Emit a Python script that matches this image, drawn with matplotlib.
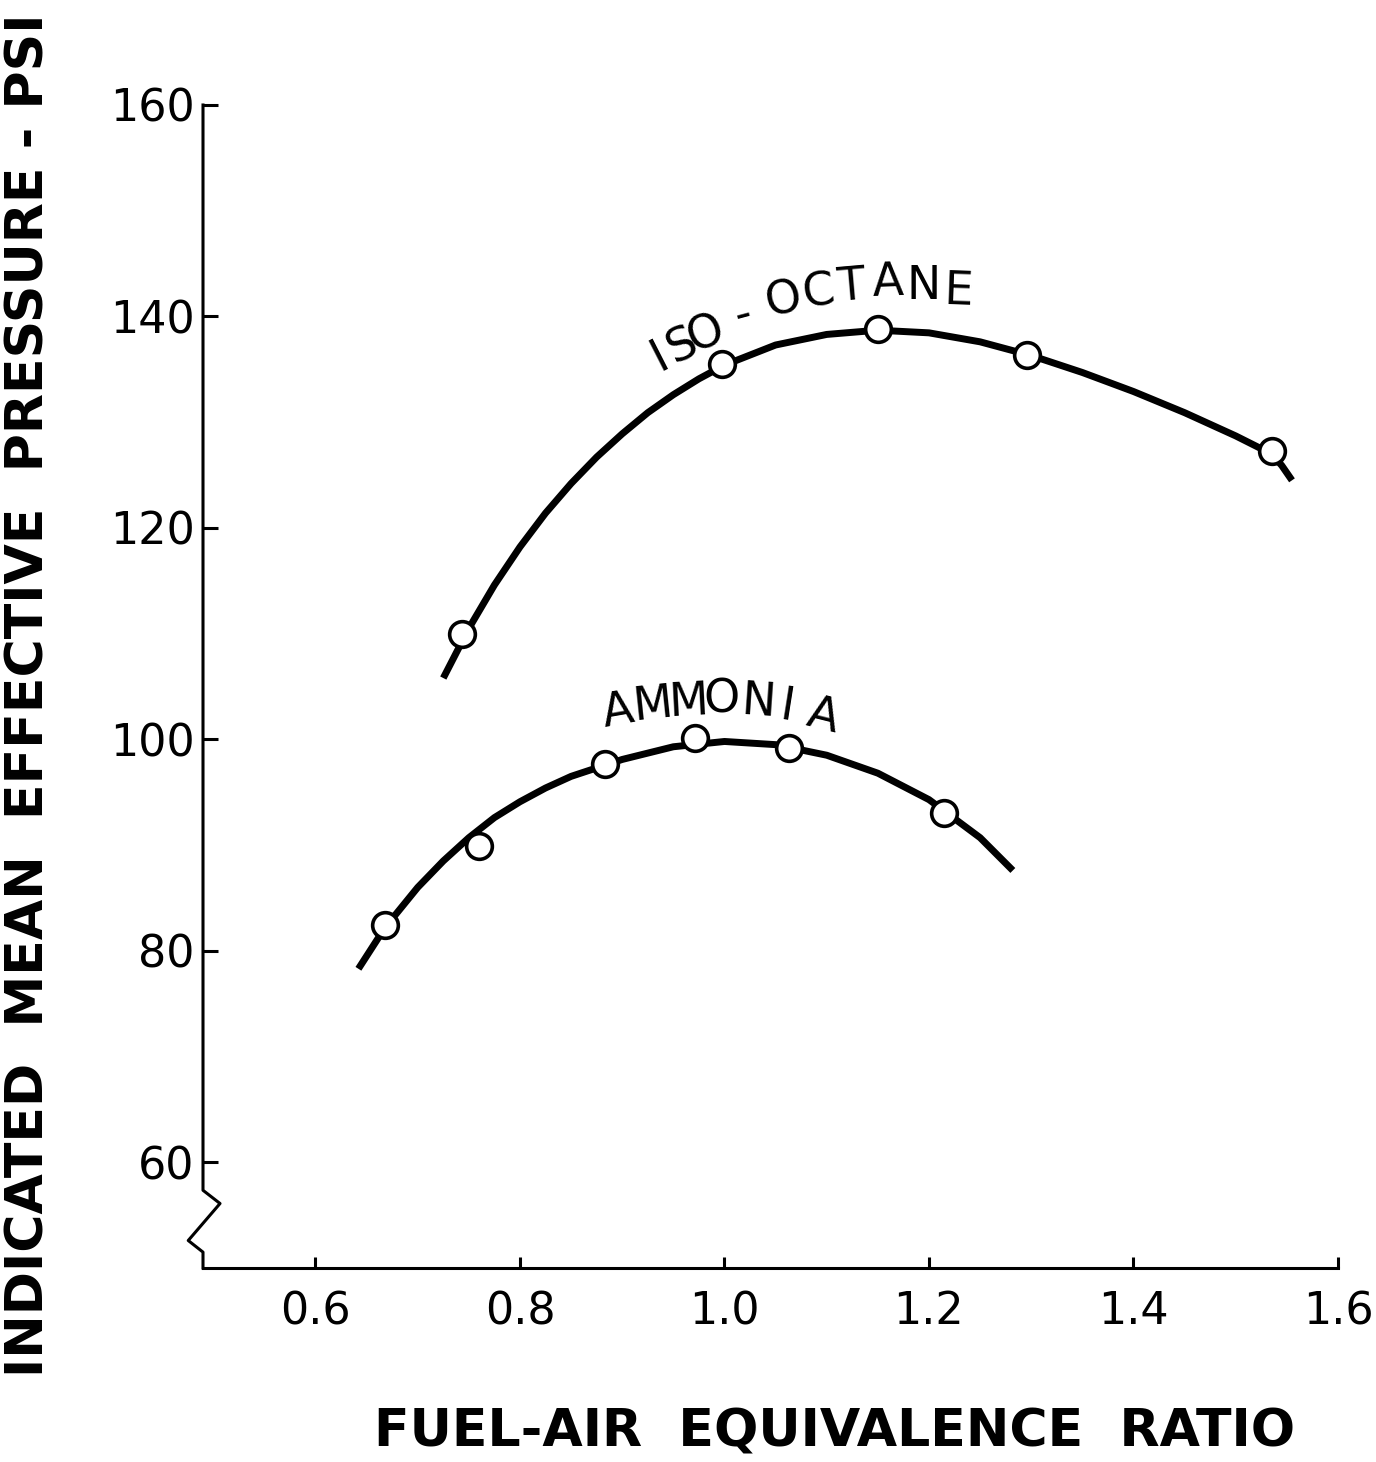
import matplotlib
matplotlib.use("Agg")
import matplotlib.pyplot as plt

# test points: fuel-air equivalence ratio vs imep (psi)
iso_x = [0.743, 0.998, 1.150, 1.296, 1.535]
iso_y = [110.0, 135.5, 138.8, 136.4, 127.3]
amm_x = [0.668, 0.760, 0.883, 0.971, 1.063, 1.215]
amm_y = [82.4, 89.9, 97.7, 100.1, 99.2, 93.0]

# faired curves
iso_cx = [0.725, 0.75, 0.775, 0.80, 0.825, 0.85, 0.875, 0.90, 0.925, 0.95, 0.975, 1.00,
          1.05, 1.10, 1.15, 1.20, 1.25, 1.30, 1.35, 1.40, 1.45, 1.50, 1.535, 1.545, 1.555]
iso_cy = [105.8, 110.5, 114.6, 118.2, 121.4, 124.2, 126.7, 128.9, 130.9, 132.6, 134.1, 135.4,
          137.3, 138.3, 138.7, 138.45, 137.6, 136.3, 134.7, 132.9, 130.9, 128.7, 127.0, 125.9, 124.5]
amm_cx = [0.642, 0.668, 0.70, 0.725, 0.75, 0.775, 0.80, 0.825, 0.85, 0.90, 0.95, 1.00,
          1.05, 1.10, 1.15, 1.20, 1.25, 1.282]
amm_cy = [78.3, 82.2, 86.0, 88.5, 90.7, 92.6, 94.1, 95.4, 96.5, 98.1, 99.3, 99.8,
          99.5, 98.5, 96.8, 94.3, 90.7, 87.6]

x_ticks = [0.6, 0.8, 1.0, 1.2, 1.4, 1.6]
x_ticklabels = ["0.6", "0.8", "1.0", "1.2", "1.4", "1.6"]
y_ticks = [60, 80, 100, 120, 140, 160]

# curve labels are lettered one character at a time along an arc
iso_chars = list("ISO-OCTANE")
iso_pos = [(0.937, 136.2), (0.959, 137.2), (0.982, 138.3), (1.018, 140.1), (1.058, 141.5),
           (1.092, 142.2), (1.124, 142.8), (1.160, 143.2), (1.195, 142.8), (1.229, 142.3)]
iso_rot = [27, 25, 21, 15, 12, 8, 5, 2, 0, -2]
amm_chars = list("AMMONIA")
amm_pos = [(0.896, 102.6), (0.930, 103.2), (0.965, 103.5), (0.997, 103.7),
           (1.033, 103.5), (1.061, 103.0), (1.096, 102.1)]
amm_rot = [10, 6, 3, 0, -4, -9, -14]

W, H = 1376, 1462
fig = plt.figure(figsize=(W / 100, H / 100), dpi=100)
ax = fig.add_axes([203 / W, 1 - 1268 / H, (1338 - 203) / W, (1268 - 105) / H])
ax.set_xlim(0.49, 1.6)
ax.set_ylim(50, 160)

for cx, cy, px, py in [(iso_cx, iso_cy, iso_x, iso_y), (amm_cx, amm_cy, amm_x, amm_y)]:
    ax.plot(cx, cy, color="black", lw=5, solid_capstyle="butt", solid_joinstyle="round", zorder=2)
    ax.plot(px, py, "o", ms=18.5, mfc="white", mec="black", mew=2.6, zorder=3)

for chars, pos, rot in [(iso_chars, iso_pos, iso_rot), (amm_chars, amm_pos, amm_rot)]:
    for c, (tx, ty), r in zip(chars, pos, rot):
        ax.text(tx, ty, c, fontsize=33, rotation=r, ha="center", va="center",
                rotation_mode="anchor")

# spines: left one drawn by hand to get the axis break
for s in ["top", "right", "left"]:
    ax.spines[s].set_visible(False)
ax.spines["bottom"].set_linewidth(2.2)
brk_x = [0, 0, 0.015, -0.013, 0, 0]
brk_y = [160, 57.35, 56.1, 52.6, 51.5, 50]
ax.plot(brk_x, brk_y, color="black", lw=2.2, transform=ax.get_yaxis_transform(), clip_on=False)

ax.set_xticks(x_ticks)
ax.set_xticklabels(x_ticklabels)
ax.set_yticks(y_ticks)
ax.tick_params(axis="x", direction="in", length=8, width=2.2, pad=16, labelsize=32)
ax.tick_params(axis="y", direction="in", length=11, width=2.2, pad=6, labelsize=32)

fig.text(835 / W, 1 - 1433 / H, "FUEL-AIR  EQUIVALENCE  RATIO", fontsize=37.5,
         fontweight="bold", ha="center", va="center")
fig.text(30 / W, 1 - 695 / H, "INDICATED  MEAN  EFFECTIVE  PRESSURE - PSI", fontsize=37.5,
         fontweight="bold", rotation=90, ha="center", va="center")

fig.savefig("out.png", dpi=100)
